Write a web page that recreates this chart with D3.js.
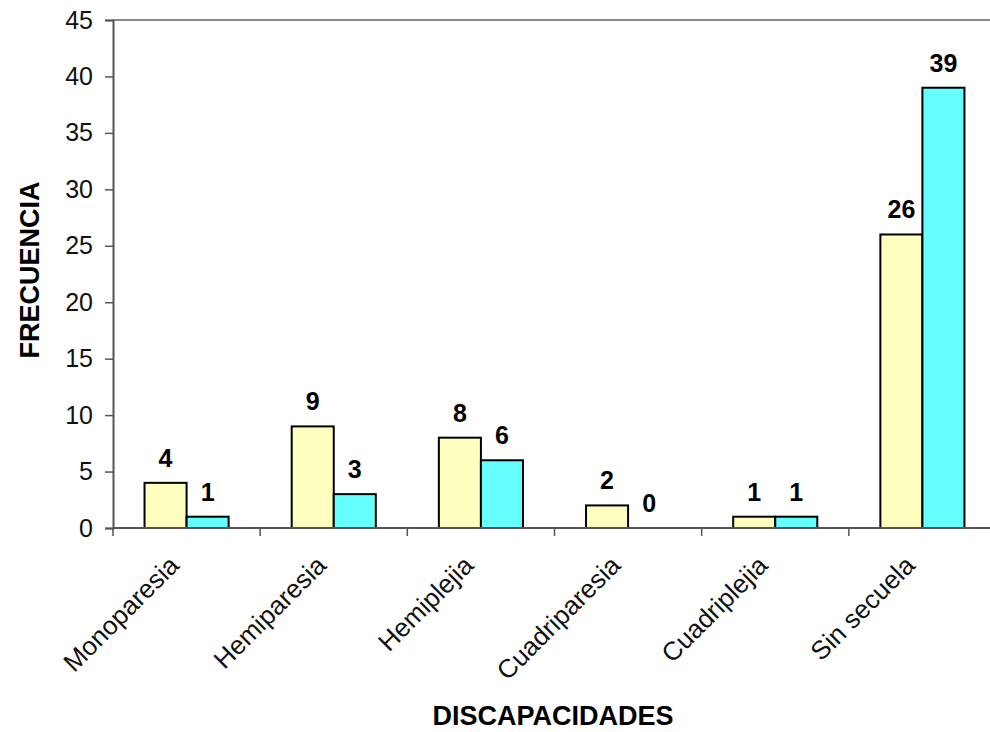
<!DOCTYPE html>
<html>
<head>
<meta charset="utf-8">
<script src="https://cdn.jsdelivr.net/npm/d3@7"></script>
<style>
  html, body { margin: 0; padding: 0; background: #fff; }
  svg { display: block; font-family: Arial, "Liberation Sans", sans-serif; }
</style>
</head>
<body>
<svg id="chart" width="990" height="732"></svg>
<script>
// Discapacidades por categoría, dos series
const categories = ["Monoparesia", "Hemiparesia", "Hemiplejia", "Cuadriparesia", "Cuadriplejia", "Sin secuela"];
const seriesA = [4, 9, 8, 2, 1, 26];
const seriesB = [1, 3, 6, 0, 1, 39];
const yTicks = [0, 5, 10, 15, 20, 25, 30, 35, 40, 45];

const colors = ["#FFFFC0", "#66FFFF"];

const svg = d3.select("#chart");
const plotLeft = 113, plotRight = 996, plotTop = 20, plotBottom = 528;

const x = d3.scaleBand().domain(categories).range([plotLeft, plotRight]).paddingInner(0).paddingOuter(0);
const y = d3.scaleLinear().domain([0, 45]).range([plotBottom, plotTop]);

const bw = x.bandwidth() / 3.5;
const off = bw * 0.75;

// plot area border (top edge)
svg.append("line")
  .attr("x1", plotLeft).attr("x2", plotRight)
  .attr("y1", y(45)).attr("y2", y(45))
  .attr("stroke", "#8a8a8a").attr("stroke-width", 2);

// bars and value labels
const series = [seriesA, seriesB];
series.forEach((vals, si) => {
  const rows = categories.map((c, i) => ({ c, v: vals[i] }));
  svg.append("g").selectAll("rect")
    .data(rows)
    .join("rect")
    .attr("x", d => x(d.c) + off + si * bw)
    .attr("y", d => y(d.v))
    .attr("width", bw)
    .attr("height", d => y(0) - y(d.v))
    .attr("fill", colors[si])
    .attr("stroke", d => d.v > 0 ? "#000" : "none")
    .attr("stroke-width", 2);

  svg.append("g").selectAll("text")
    .data(rows)
    .join("text")
    .attr("x", d => x(d.c) + off + si * bw + bw / 2)
    .attr("y", d => y(d.v) - 16)
    .attr("text-anchor", "middle")
    .attr("font-size", 25)
    .attr("font-weight", "bold")
    .attr("fill", "#000")
    .text(d => d.v);
});

// y axis
const yAxis = svg.append("g")
  .attr("transform", `translate(${plotLeft},0)`)
  .call(d3.axisLeft(y).tickValues(yTicks).tickSize(8).tickPadding(12));
yAxis.select(".domain").attr("stroke", "#555").attr("stroke-width", 2);
yAxis.selectAll(".tick line").attr("stroke", "#555").attr("stroke-width", 1.5);
yAxis.selectAll(".tick text")
  .attr("font-size", 25).attr("fill", "#111")
  .attr("font-family", "Arial, 'Liberation Sans', sans-serif");

// x axis with ticks at category boundaries
const xAxisG = svg.append("g");
xAxisG.append("line")
  .attr("x1", plotLeft).attr("x2", plotRight)
  .attr("y1", y(0)).attr("y2", y(0))
  .attr("stroke", "#555").attr("stroke-width", 2);
xAxisG.selectAll("line.tk")
  .data(categories.concat(["_end"]))
  .join("line")
  .attr("class", "tk")
  .attr("x1", (d, i) => plotLeft + i * x.bandwidth())
  .attr("x2", (d, i) => plotLeft + i * x.bandwidth())
  .attr("y1", y(0)).attr("y2", y(0) + 8)
  .attr("stroke", "#555").attr("stroke-width", 1.5);

xAxisG.selectAll("text.cat")
  .data(categories)
  .join("text")
  .attr("class", "cat")
  .attr("transform", d => `translate(${x(d) + x.bandwidth() / 2 - 6},${y(0) + 39}) rotate(-45)`)
  .attr("text-anchor", "end")
  .attr("font-size", 26)
  .attr("fill", "#111")
  .text(d => d);

// axis titles
svg.append("text")
  .attr("transform", `translate(39,270) rotate(-90)`)
  .attr("text-anchor", "middle")
  .attr("font-size", 27)
  .attr("font-weight", "bold")
  .text("FRECUENCIA");

svg.append("text")
  .attr("x", 553).attr("y", 725)
  .attr("text-anchor", "middle")
  .attr("font-size", 27)
  .attr("font-weight", "bold")
  .text("DISCAPACIDADES");
</script>
</body>
</html>
